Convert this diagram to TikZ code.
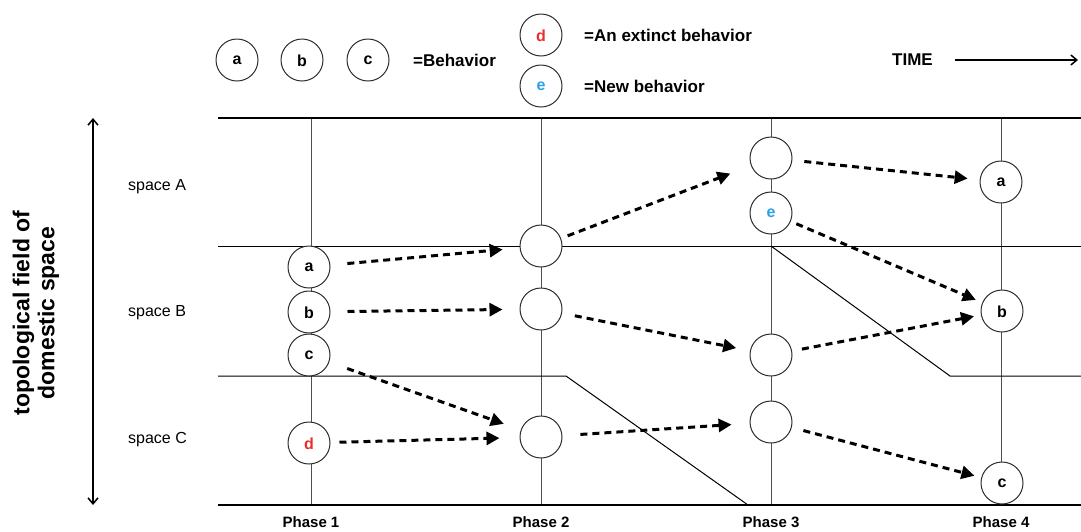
\documentclass[tikz,border=0pt]{standalone}
\usepackage{fontspec}
\setmainfont{Liberation Sans}
\usetikzlibrary{arrows.meta}

\definecolor{extinct}{RGB}{238,45,45}
\definecolor{newbeh}{RGB}{45,160,228}
\definecolor{circline}{RGB}{45,45,45}
\definecolor{phaseline}{RGB}{80,80,80}

\tikzset{
  beh/.style={circle, draw=circline, line width=1pt, fill=white, minimum size=42pt,
    inner sep=0pt, text height=9.5pt, text depth=0pt,
    font=\fontsize{16}{16}\selectfont\bfseries},
  tall/.style={text height=12.5pt},
  legendtxt/.style={anchor=west, inner sep=0pt, font=\fontsize{17}{17}\selectfont\bfseries},
  spacetxt/.style={anchor=west, inner sep=0pt, font=\fontsize{16}{16}\selectfont},
  phasetxt/.style={inner sep=0pt, font=\fontsize{15}{15}\selectfont\bfseries},
  frame/.style={line width=2pt, black},
  border/.style={line width=1pt, black},
  phase/.style={line width=1pt, phaseline},
  flow/.style={line width=3pt, dash pattern=on 7pt off 5pt,
    -{Triangle[length=13pt,width=13pt]}},
  axis/.style={line width=1.5pt, {Straight Barb[length=6pt,width=10pt]}-{Straight Barb[length=6pt,width=10pt]}},
}

\begin{document}
\begin{tikzpicture}[x=1pt,y=-1pt]
  \useasboundingbox (0,0) rectangle (1081,531);

  % legend
  \node[beh] (la) at (237,60) {a};
  \node[beh, tall] (lb) at (302,60) {b};
  \node[beh] (lc) at (368,60) {c};
  \node[legendtxt] (lbeh) at (413,60) {=Behavior};
  \node[beh, tall, text=extinct] (ld) at (541,35) {d};
  \node[legendtxt] (lext) at (584,35) {=An extinct behavior};
  \node[beh, text=newbeh] (le) at (541,86) {e};
  \node[legendtxt] (lnew) at (584,86) {=New behavior};

  % time axis
  \node[legendtxt] (time) at (892,60) {TIME};
  \coordinate (t0) at (955,60);
  \coordinate (t1) at (1078,60);
  \draw[line width=1.5pt, -{Straight Barb[length=6pt,width=10pt]}] (t0) -- (t1);

  % space axis and its title
  \coordinate (s0) at (93,118);
  \coordinate (s1) at (93,505);
  \draw[axis] (s0) -- (s1);
  \node[rotate=90, align=center, inner sep=0pt,
        font=\fontsize{23}{25}\selectfont\bfseries] (title) at (36,313)
        {topological field of\\domestic space};

  \node[spacetxt] (sa) at (128,187) {space A};
  \node[spacetxt] (sb) at (128,313) {space B};
  \node[spacetxt] (sc) at (128,440) {space C};

  % phase lines
  \foreach \x/\n in {311/1,541/2,771/3,1001/4}{
    \coordinate (ptop\n) at (\x,118);
    \coordinate (pbot\n) at (\x,505);
    \draw[phase] (ptop\n) -- (pbot\n);
    \node[phasetxt] (plab\n) at (\x,522) {Phase \n};
  }

  % space boundaries
  \coordinate (ab0) at (218,246);
  \coordinate (ab1) at (1081,246);
  \coordinate (ab2) at (771,246);
  \coordinate (ab3) at (950,376);
  \coordinate (ab4) at (1081,376);
  \coordinate (bc0) at (218,376);
  \coordinate (bc1) at (566,376);
  \coordinate (bc2) at (748,505);
  \draw[border] (ab0) -- (ab1);
  \draw[border] (ab2) -- (ab3) -- (ab4);
  \draw[border] (bc0) -- (bc1) -- (bc2);

  % frame
  \coordinate (f0) at (218,118);
  \coordinate (f1) at (1081,118);
  \coordinate (f2) at (218,505);
  \coordinate (f3) at (1081,505);
  \draw[frame] (f0) -- (f1);
  \draw[frame] (f2) -- (f3);

  % phase 1
  \node[beh] (p1a) at (309,267) {a};
  \node[beh, tall] (p1b) at (309,312) {b};
  \node[beh] (p1c) at (309,355) {c};
  \node[beh, tall, text=extinct] (p1d) at (309,443) {d};

  % phase 2
  \node[beh] (p2a) at (541,246) {};
  \node[beh] (p2b) at (541,309) {};
  \node[beh] (p2c) at (541,437) {};

  % phase 3
  \node[beh] (p3a) at (771,158) {};
  \node[beh, text=newbeh] (p3e) at (771,213) {e};
  \node[beh] (p3b) at (771,355) {};
  \node[beh] (p3c) at (771,422) {};

  % phase 4
  \node[beh] (p4a) at (1001,182) {a};
  \node[beh, tall] (p4b) at (1002,311) {b};
  \node[beh] (p4c) at (1002,483) {c};

  % transitions
  \draw[flow, shorten <=17pt, shorten >=17pt] (p1a) -- (p2a);
  \draw[flow, shorten <=17pt, shorten >=17pt] (p1b) -- (p2b);
  \draw[flow, shorten <=19pt, shorten >=18pt] (p1c) -- (p2c);
  \draw[flow, shorten <=9pt, shorten >=20pt] (p1d) -- (p2c);
  \draw[flow, shorten <=7pt, shorten >=22pt] (p2a) -- (p3a);
  \draw[flow, shorten <=13pt, shorten >=14pt] (p2b) -- (p3b);
  \draw[flow, shorten <=18pt, shorten >=18pt] (p2c) -- (p3c);
  \draw[flow, shorten <=12pt, shorten >=12pt] (p3a) -- (p4a);
  \draw[flow, shorten <=6pt, shorten >=7pt] (p3e) -- (p4b);
  \draw[flow, shorten <=10pt, shorten >=7pt] (p3b) -- (p4b);
  \draw[flow, shorten <=12pt, shorten >=7pt] (p3c) -- (p4c);
\end{tikzpicture}
\end{document}
